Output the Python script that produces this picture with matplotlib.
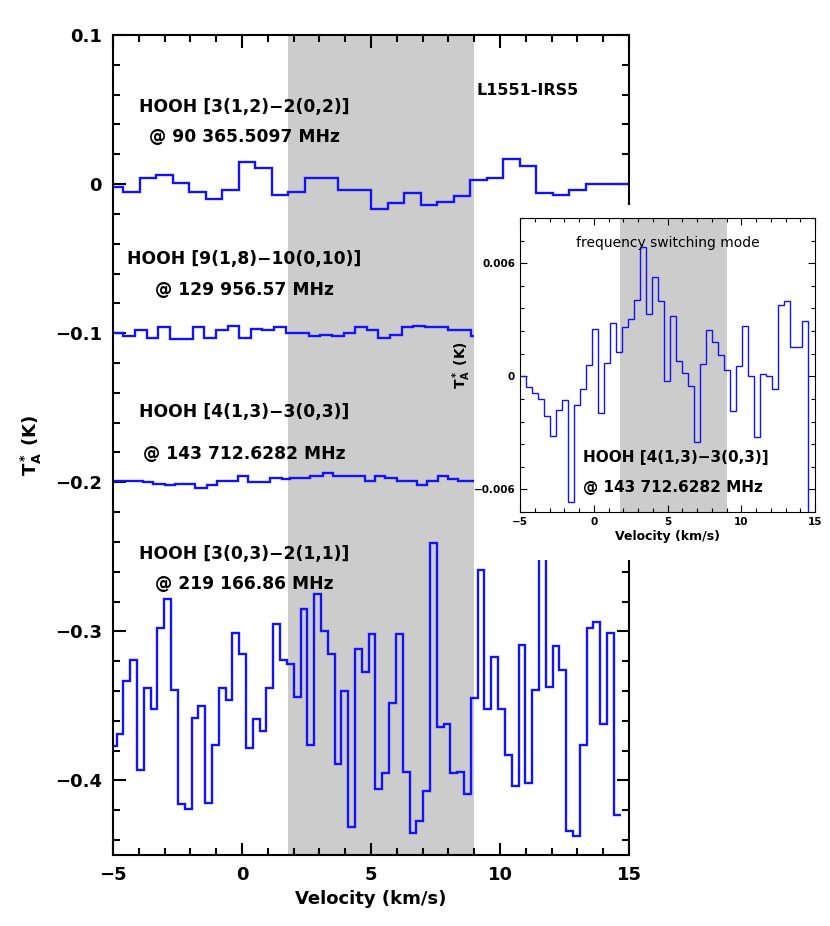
import numpy as np
import matplotlib
matplotlib.use("Agg")
import matplotlib.pyplot as plt
from matplotlib.ticker import MultipleLocator

# ---------------- data ----------------
band = [1.8, 9.0]

s1_edges = np.concatenate([[-5.0], np.linspace(-4.6, 14.6, 31), [15.0]])
s1_vals = [-0.002, -0.005, 0.004, 0.006, 0.001, -0.005, -0.010, -0.004, 0.015, 0.011,
           -0.007, -0.005, 0.004, 0.004, -0.004, -0.004, -0.017, -0.013, -0.006, -0.014,
           -0.012, -0.008, 0.003, 0.004, 0.017, 0.012, -0.006, -0.007, -0.004, 0.000, 0.000, 0.000]

s2_edges = np.concatenate([[-5.0], np.linspace(-4.60, 8.88, 31), [9.0]])
s2_vals = [-0.100, -0.102, -0.098, -0.103, -0.096, -0.104, -0.104, -0.096, -0.103, -0.098,
           -0.095, -0.103, -0.097, -0.098, -0.096, -0.100, -0.100, -0.102, -0.101, -0.102,
           -0.100, -0.096, -0.098, -0.103, -0.101, -0.096, -0.095, -0.096, -0.096, -0.098,
           -0.098, -0.102]

s3_edges = [-5.0, -3.82, -3.44, -2.99, -2.60, -1.82, -1.37, -0.98, -0.14, 0.24, 1.08, 1.54,
            1.86, 2.25, 2.64, 3.13, 3.54, 3.93, 4.38, 4.77, 5.16, 5.54, 6.00, 6.38, 6.77,
            7.16, 7.61, 8.00, 8.39, 9.0]
s3_vals = [-0.199, -0.200, -0.201, -0.202, -0.201, -0.204, -0.202, -0.199, -0.196, -0.200,
           -0.197, -0.198, -0.197, -0.197, -0.196, -0.194, -0.196, -0.196, -0.196, -0.199,
           -0.196, -0.197, -0.199, -0.199, -0.202, -0.199, -0.196, -0.198, -0.199]

s4_edges = np.concatenate([[-5.0], np.linspace(-4.86, 14.68, 75)])
s4_vals = [-0.377, -0.369, -0.333, -0.319, -0.393, -0.338, -0.352, -0.298, -0.278, -0.339,
           -0.416, -0.419, -0.358, -0.350, -0.415, -0.376, -0.338, -0.346, -0.301, -0.315,
           -0.378, -0.359, -0.367, -0.338, -0.295, -0.319, -0.322, -0.344, -0.285, -0.376,
           -0.275, -0.300, -0.315, -0.389, -0.340, -0.431, -0.312, -0.327, -0.302, -0.406,
           -0.395, -0.348, -0.302, -0.394, -0.435, -0.427, -0.407, -0.241, -0.364, -0.362,
           -0.395, -0.394, -0.409, -0.345, -0.259, -0.352, -0.317, -0.352, -0.383, -0.404,
           -0.309, -0.402, -0.339, -0.245, -0.337, -0.310, -0.326, -0.434, -0.437, -0.376,
           -0.298, -0.294, -0.362, -0.301, -0.423]

in_edges = np.concatenate([np.linspace(-5.0, 14.54, 49), [15.0]])
in_vals = [0.0, -0.00058, -0.00090, -0.00119, -0.00209, -0.00315, -0.00179, -0.00126,
           -0.00665, -0.00154, -0.00065, 0.00058, 0.00251, -0.00196, 0.00073, 0.00285,
           0.00127, 0.00264, 0.00303, 0.00405, 0.00685, 0.00331, 0.00527, 0.00402,
           -0.00023, 0.00322, 0.00083, 0.00018, -0.00050, -0.00350, 0.00065, 0.00246,
           0.00181, 0.00115, 0.00034, -0.00184, 0.00053, 0.00267, 0.00004, -0.00324,
           0.00011, 0.0, -0.00065, 0.00381, 0.00397, 0.00158, 0.00158, 0.00296, -0.0080]

labels = [("HOOH [3(1,2)\u22122(0,2)]", "@ 90 365.5097 MHz", 0.052, 0.0315),
          ("HOOH [9(1,8)\u221210(0,10)]", "@ 129 956.57 MHz", -0.050, -0.071),
          ("HOOH [4(1,3)\u22123(0,3)]", "@ 143 712.6282 MHz", -0.153, -0.181),
          ("HOOH [3(0,3)\u22122(1,1)]", "@ 219 166.86 MHz", -0.248, -0.268)]

# ---------------- plot ----------------
W, H = 830, 926
fig = plt.figure(figsize=(8.3, 9.26), dpi=100)
blue = "#1414f0"
gray = "#cccccc"

ax = fig.add_axes([113 / W, 1 - 855 / H, 516 / W, 820 / H])
ax.axvspan(band[0], band[1], color=gray, lw=0, zorder=0)
for e, v in [(s1_edges, s1_vals), (s2_edges, s2_vals), (s3_edges, s3_vals), (s4_edges, s4_vals)]:
    ax.stairs(v, e, color=blue, lw=1.7, zorder=2, baseline=None)
ax.set_xlim(-5, 15)
ax.set_ylim(-0.45, 0.1)
ax.yaxis.set_minor_locator(MultipleLocator(0.02))
ax.xaxis.set_minor_locator(MultipleLocator(1))
ax.tick_params(which="both", direction="in", top=True, right=True, width=1.5)
ax.tick_params(which="major", length=9, labelsize=13, pad=8)
ax.tick_params(which="minor", length=5)
ax.set_yticks([0.1, 0, -0.1, -0.2, -0.3, -0.4])
ax.set_yticklabels(["0.1", "0", "\u22120.1", "\u22120.2", "\u22120.3", "\u22120.4"])
ax.set_xticks([-5, 0, 5, 10, 15])
ax.set_xticklabels(["\u22125", "0", "5", "10", "15"])
for lab in ax.get_xticklabels() + ax.get_yticklabels():
    lab.set_fontweight("bold")
for s in ax.spines.values():
    s.set_linewidth(1.5)
ax.set_xlabel("Velocity (km/s)", fontsize=13, fontweight="bold", labelpad=4)
ax.set_ylabel(r"$\mathbf{T_A^*}$ (K)", fontsize=13, fontweight="bold", labelpad=8)
for l1, l2, y1, y2 in labels:
    ax.text(0.1, y1, l1, ha="center", va="center", fontsize=12.3, fontweight="bold", zorder=3)
    ax.text(0.1, y2, l2, ha="center", va="center", fontsize=12.3, fontweight="bold", zorder=3)
ax.text(9.1, 0.063, "L1551-IRS5", ha="left", va="center", fontsize=11.5, fontweight="bold")

# white cover behind inset
cover = fig.add_axes([476 / W, 1 - 560 / H, 354 / W, 355 / H])
cover.set_zorder(1)
cover.set_facecolor("white")
cover.set_xticks([])
cover.set_yticks([])
for s in cover.spines.values():
    s.set_visible(False)

ins = fig.add_axes([520 / W, 1 - 512 / H, 295 / W, 294 / H])
ins.set_zorder(2)
ins.axvspan(band[0], band[1], color=gray, lw=0, zorder=0)
ins.stairs(in_vals, in_edges, color=blue, lw=1.0, zorder=2, baseline=None)
ins.set_xlim(-5, 15)
ins.set_ylim(-0.0072, 0.0084)
ins.set_xticks([-5, 0, 5, 10, 15])
ins.xaxis.set_minor_locator(MultipleLocator(1))
ins.set_yticks([-0.006, 0, 0.006])
ins.set_yticklabels(["\u22120.006", "0", "0.006"])
ins.yaxis.set_minor_locator(MultipleLocator(0.0012))
ins.set_xticklabels(["\u22125", "0", "5", "10", "15"])
ins.tick_params(which="both", direction="in", top=True, right=True, labelsize=7.5, width=0.8)
ins.tick_params(which="major", length=5)
ins.tick_params(which="minor", length=3)
for lab in ins.get_xticklabels() + ins.get_yticklabels():
    lab.set_fontweight("bold")
ins.set_xlabel("Velocity (km/s)", fontsize=9, fontweight="bold", labelpad=2)
ins.set_ylabel(r"$\mathbf{T_A^*}$ (K)", fontsize=10, fontweight="bold", labelpad=0)
ins.text(0.5, 0.915, "frequency switching mode", transform=ins.transAxes,
         ha="center", va="center", fontsize=10)
ins.text(-0.75, -0.00430, "HOOH [4(1,3)\u22123(0,3)]", ha="left", va="center", fontsize=11, fontweight="bold")
ins.text(-0.75, -0.00590, "@ 143 712.6282 MHz", ha="left", va="center", fontsize=11, fontweight="bold")

fig.savefig("out.png", dpi=100)
